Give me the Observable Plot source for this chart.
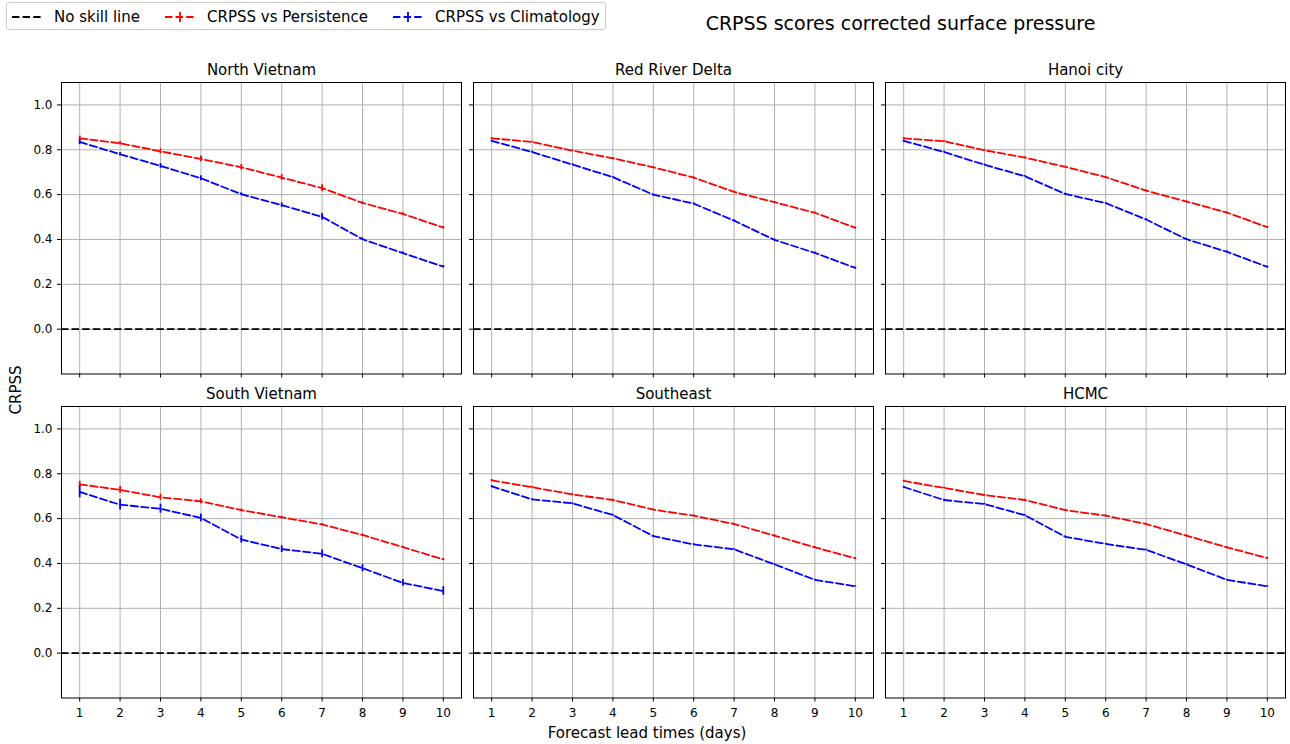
<!DOCTYPE html>
<html>
<head>
<meta charset="utf-8">
<script src="https://cdn.jsdelivr.net/npm/d3@7"></script>
<script src="https://cdn.jsdelivr.net/npm/@observablehq/plot@0.6"></script>
<style>
  html, body { margin: 0; padding: 0; background: white; }
  #fig { position: relative; width: 1290px; height: 744px; overflow: hidden; font-family: "DejaVu Sans", sans-serif; color: black; }
  .abs { position: absolute; }
  .lbl { position: absolute; white-space: nowrap; line-height: 1; transform: translate(-50%, -50%); }
  #legend { position: absolute; left: 6px; top: 2px; width: 600px; height: 28px; border: 1px solid #cccccc; border-radius: 3px; background: rgba(255,255,255,0.8); box-sizing: border-box; }
  .item { position: absolute; top: 0; height: 28px; display: flex; align-items: center; font-size: 15px; white-space: nowrap; }
  .item svg { margin-right: 12px; }
</style>
</head>
<body>
<div id="fig"></div>
<script>
const leadTimes = [1, 2, 3, 4, 5, 6, 7, 8, 9, 10];
const yTicks = [0.0, 0.2, 0.4, 0.6, 0.8, 1.0];
const regionNames = ["North Vietnam", "Red River Delta", "Hanoi city", "South Vietnam", "Southeast", "HCMC"];
const seriesNames = ["No skill line", "CRPSS vs Persistence", "CRPSS vs Climatology"];
const seriesColors = ["#000000", "#ff0000", "#0000ff"];

const persistenceScores = [
  [0.851, 0.829, 0.793, 0.759, 0.722, 0.676, 0.629, 0.563, 0.514, 0.453],
  [0.851, 0.835, 0.796, 0.762, 0.722, 0.676, 0.612, 0.566, 0.519, 0.452],
  [0.851, 0.838, 0.798, 0.765, 0.724, 0.678, 0.618, 0.569, 0.520, 0.455],
  [0.753, 0.728, 0.695, 0.677, 0.638, 0.606, 0.574, 0.527, 0.473, 0.418],
  [0.771, 0.740, 0.708, 0.683, 0.640, 0.613, 0.576, 0.524, 0.472, 0.423],
  [0.768, 0.737, 0.705, 0.683, 0.638, 0.613, 0.576, 0.524, 0.472, 0.424]
];
const climatologyScores = [
  [0.835, 0.780, 0.728, 0.673, 0.602, 0.553, 0.501, 0.401, 0.339, 0.279],
  [0.840, 0.790, 0.734, 0.678, 0.600, 0.560, 0.484, 0.398, 0.340, 0.273],
  [0.840, 0.790, 0.733, 0.682, 0.603, 0.562, 0.489, 0.401, 0.345, 0.278],
  [0.719, 0.662, 0.644, 0.603, 0.507, 0.464, 0.443, 0.379, 0.313, 0.277],
  [0.744, 0.686, 0.668, 0.616, 0.522, 0.485, 0.463, 0.396, 0.327, 0.298],
  [0.741, 0.683, 0.665, 0.615, 0.519, 0.487, 0.461, 0.396, 0.327, 0.298]
];
const persistenceErr = [
  [0.010, 0.008, 0.011, 0.013, 0.012, 0.013, 0.015, 0.005, 0.005, 0.005],
  [0.003, 0.003, 0.003, 0.003, 0.003, 0.003, 0.003, 0.003, 0.003, 0.003],
  [0.003, 0.003, 0.003, 0.003, 0.003, 0.003, 0.003, 0.003, 0.003, 0.003],
  [0.013, 0.015, 0.013, 0.011, 0.005, 0.004, 0.004, 0.004, 0.004, 0.004],
  [0.003, 0.003, 0.003, 0.003, 0.003, 0.003, 0.003, 0.003, 0.003, 0.003],
  [0.003, 0.003, 0.003, 0.003, 0.003, 0.003, 0.003, 0.003, 0.003, 0.003]
];
const climatologyErr = [
  [0.012, 0.008, 0.011, 0.011, 0.006, 0.010, 0.015, 0.005, 0.005, 0.005],
  [0.003, 0.003, 0.003, 0.003, 0.003, 0.003, 0.003, 0.003, 0.003, 0.003],
  [0.003, 0.003, 0.003, 0.003, 0.003, 0.003, 0.003, 0.003, 0.003, 0.003],
  [0.026, 0.024, 0.020, 0.017, 0.016, 0.015, 0.017, 0.016, 0.015, 0.019],
  [0.003, 0.003, 0.003, 0.003, 0.003, 0.003, 0.003, 0.003, 0.003, 0.003],
  [0.003, 0.003, 0.003, 0.003, 0.003, 0.003, 0.003, 0.003, 0.003, 0.003]
];

const fig = document.getElementById("fig");
const DASH = "7.4,3.2";
const LW = 1.8;

// layout
const colLeft = [61, 473, 885];
const rowTop = [81.9, 405.6];
const panelW = 400, panelH = 291.5;
const mL = 50, mR = 6, mT = 30, mB = 30;

regionNames.forEach((name, i) => {
  const col = i % 3, row = Math.floor(i / 3);
  const rows = [];
  leadTimes.forEach((t, j) => {
    rows.push({series: seriesNames[1], lead: t, v: persistenceScores[i][j], lo: persistenceScores[i][j] - persistenceErr[i][j], hi: persistenceScores[i][j] + persistenceErr[i][j]});
  });
  leadTimes.forEach((t, j) => {
    rows.push({series: seriesNames[2], lead: t, v: climatologyScores[i][j], lo: climatologyScores[i][j] - climatologyErr[i][j], hi: climatologyScores[i][j] + climatologyErr[i][j]});
  });
  const showX = row === 1, showY = col === 0;
  const chart = Plot.plot({
    width: panelW + mL + mR,
    height: panelH + mT + mB,
    marginLeft: mL, marginRight: mR, marginTop: mT, marginBottom: mB,
    style: {fontFamily: "DejaVu Sans", fontSize: "12px", background: "transparent", overflow: "visible", color: "black"},
    x: {domain: [0.55, 10.45]},
    y: {domain: [-0.2, 1.1]},
    color: {domain: seriesNames, range: seriesColors},
    marks: [
      Plot.gridX(leadTimes, {stroke: "#b0b0b0", strokeOpacity: 1, strokeWidth: 1}),
      Plot.gridY(yTicks, {stroke: "#b0b0b0", strokeOpacity: 1, strokeWidth: 1}),
      Plot.ruleY([0], {stroke: "black", strokeWidth: LW, strokeDasharray: DASH}),
      Plot.ruleX(rows, {x: "lead", y1: "lo", y2: "hi", stroke: "series", strokeWidth: LW}),
      Plot.line(rows, {x: "lead", y: "v", z: "series", stroke: "series", strokeWidth: LW, strokeDasharray: DASH}),
      Plot.axisX(leadTimes, {tickSize: 4, tickPadding: 6, tickFormat: showX ? (d => String(d)) : (() => ""), label: null, fontSize: 12, stroke: "black"}),
      Plot.axisY(yTicks, {tickSize: 4, tickPadding: 5, tickFormat: showY ? d3.format(".1f") : (() => ""), label: null, fontSize: 12, stroke: "black"}),
      Plot.frame({stroke: "black", strokeWidth: 1}),
      Plot.text([name], {frameAnchor: "top", lineAnchor: "bottom", dy: -7.5, fontSize: 15, fill: "black"})
    ]
  });
  chart.style.position = "absolute";
  chart.style.left = (colLeft[col] - mL) + "px";
  chart.style.top = (rowTop[row] - mT) + "px";
  chart.style.maxWidth = "none";
  fig.appendChild(chart);
});

// titles and axis labels
function addLabel(text, x, y, size, rotate) {
  const d = document.createElement("div");
  d.className = "lbl";
  d.textContent = text;
  d.style.left = x + "px";
  d.style.top = y + "px";
  d.style.fontSize = size + "px";
  if (rotate) d.style.transform = "translate(-50%, -50%) rotate(-90deg)";
  fig.appendChild(d);
}
addLabel("CRPSS scores corrected surface pressure", 900.5, 23, 19);
addLabel("Forecast lead times (days)", 647, 733, 15);
addLabel("CRPSS", 16, 390, 15, true);

// legend
const legend = document.createElement("div");
legend.id = "legend";
fig.appendChild(legend);
const itemLeft = [5, 158, 386];
seriesNames.forEach((s, k) => {
  const it = document.createElement("div");
  it.className = "item";
  it.style.left = itemLeft[k] + "px";
  const ns = "http://www.w3.org/2000/svg";
  const sv = document.createElementNS(ns, "svg");
  sv.setAttribute("width", 30); sv.setAttribute("height", 14);
  const ln = document.createElementNS(ns, "line");
  ln.setAttribute("x1", 0); ln.setAttribute("x2", 30); ln.setAttribute("y1", 7); ln.setAttribute("y2", 7);
  ln.setAttribute("stroke", seriesColors[k]); ln.setAttribute("stroke-width", LW); ln.setAttribute("stroke-dasharray", DASH);
  sv.appendChild(ln);
  if (k > 0) {
    const eb = document.createElementNS(ns, "line");
    eb.setAttribute("x1", 15); eb.setAttribute("x2", 15); eb.setAttribute("y1", 2); eb.setAttribute("y2", 12);
    eb.setAttribute("stroke", seriesColors[k]); eb.setAttribute("stroke-width", LW);
    sv.appendChild(eb);
  }
  it.appendChild(sv);
  const tx = document.createElement("span");
  tx.textContent = s;
  it.appendChild(tx);
  legend.appendChild(it);
});
</script>
</body>
</html>
